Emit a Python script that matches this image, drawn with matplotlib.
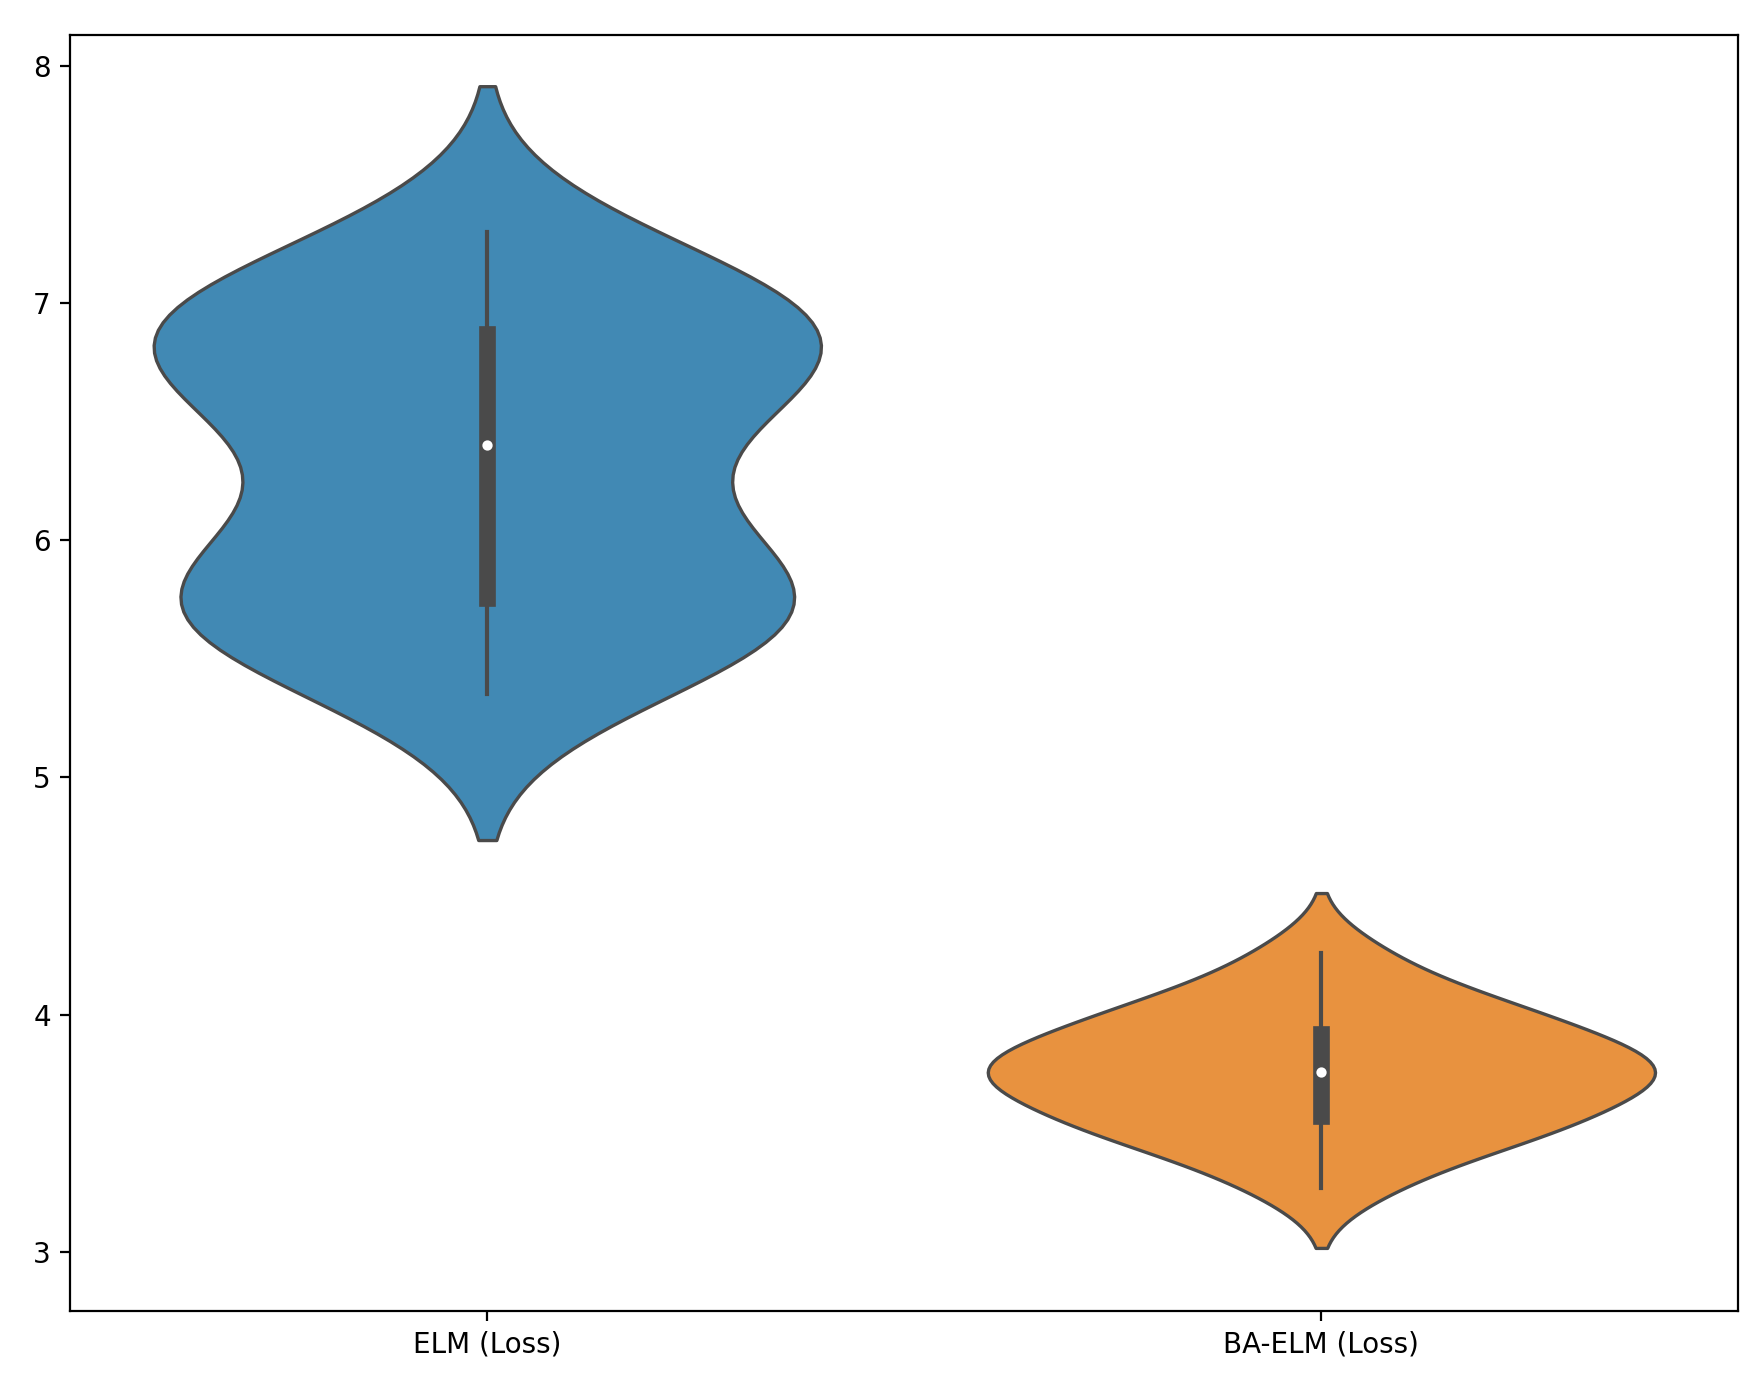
import numpy as np
import pandas as pd
import matplotlib
matplotlib.use("Agg")
import matplotlib.pyplot as plt
import seaborn as sns

# estimated sample values
elm_loss = [5.35, 5.5, 5.6, 5.65, 5.72, 5.77, 5.85, 5.95, 6.1, 6.3,
            6.5, 6.6, 6.68, 6.75, 6.93, 6.95, 7.0, 7.1, 7.3]
elm_loss = elm_loss[:14] + [6.85] + elm_loss[14:]
ba_elm_loss = [3.27, 3.4, 3.48, 3.52, 3.55, 3.6, 3.65, 3.7, 3.74, 3.76,
               3.77, 3.8, 3.85, 3.9, 3.94, 3.98, 4.05, 4.1, 4.26]
labels = ["ELM (Loss)", "BA-ELM (Loss)"]

df = pd.DataFrame({
    "model": [labels[0]] * len(elm_loss) + [labels[1]] * len(ba_elm_loss),
    "loss": elm_loss + ba_elm_loss,
})

fig, ax = plt.subplots(figsize=(8.78, 6.975), dpi=200)
sns.violinplot(data=df, x="model", y="loss", hue="model", legend=False,
               palette=["#4189b4", "#e8923f"], saturation=1,
               bw_method=0.5, cut=2, density_norm="area",
               linewidth=1.2, linecolor="#4a4a4a",
               inner_kws=dict(box_width=6, whis_width=1.5, marker="o", markersize=2.5),
               ax=ax)
ax.set_xlabel("")
ax.set_ylabel("")
ax.set_yticks([3, 4, 5, 6, 7, 8])
ax.set_ylim(2.75, 8.13)
plt.subplots_adjust(left=0.04, right=0.99, top=0.975, bottom=0.06)
plt.savefig("out.png")
